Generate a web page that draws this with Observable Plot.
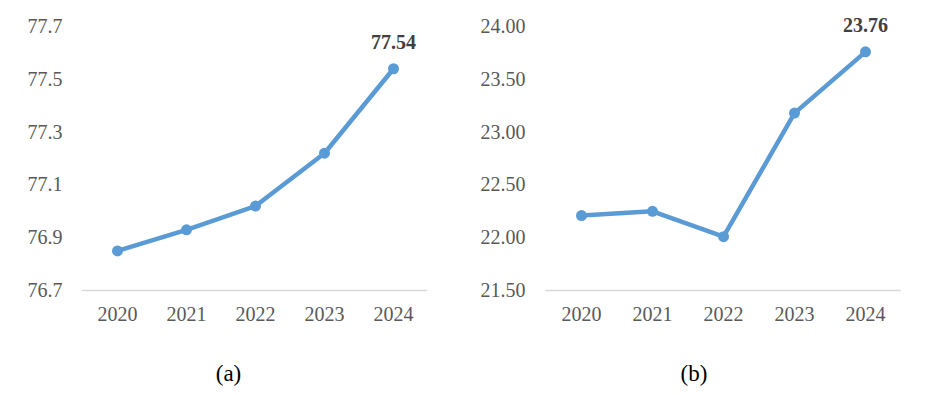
<!DOCTYPE html>
<html>
<head>
<meta charset="utf-8">
<script src="https://cdn.jsdelivr.net/npm/d3@7"></script>
<script src="https://cdn.jsdelivr.net/npm/@observablehq/plot@0.6"></script>
<style>
  html, body { margin: 0; padding: 0; background: #fff; }
  #wrap { display: flex; width: 929px; height: 395px; }
  .panel { position: relative; }
  .cap { position: absolute; left: 0; right: 0; text-align: center; font-family: "Liberation Serif", serif; font-size: 23px; color: #000; }
</style>
</head>
<body>
<div id="wrap">
  <div class="panel" id="pa" style="width:465px"><div class="cap" id="capA" style="top:361px;left:-8px">(a)</div></div>
  <div class="panel" id="pb" style="width:464px"><div class="cap" id="capB" style="top:361px;left:-6px">(b)</div></div>
</div>
<script>
const years = ["2020", "2021", "2022", "2023", "2024"];
const valuesA = [76.85, 76.93, 77.02, 77.22, 77.54];
const valuesB = [22.21, 22.25, 22.01, 23.18, 23.76];
const ticksA = [76.7, 76.9, 77.1, 77.3, 77.5, 77.7];
const ticksB = [21.5, 22.0, 22.5, 23.0, 23.5, 24.0];
const labelA = "77.54";
const labelB = "23.76";

function makePanel(values, ticks, decimals, label, width, ml, mr) {
  const data = years.map((y, i) => ({year: y, v: values[i]}));
  const last = data[data.length - 1];
  return Plot.plot({
    width, height: 330,
    marginLeft: ml, marginRight: mr, marginTop: 26, marginBottom: 40,
    style: {fontFamily: '"Liberation Serif", serif', fontSize: "20px", background: "#fff", overflow: "visible"},
    x: {type: "point", domain: years, padding: 0.5, label: null},
    y: {domain: [ticks[0], ticks[ticks.length - 1]], label: null},
    marks: [
      Plot.axisY({ticks, tickFormat: d => d.toFixed(decimals), tickSize: 0, tickPadding: 20, fill: "#595959", fontSize: 20, label: null}),
      Plot.axisX({tickSize: 0, tickPadding: 16, fill: "#595959", fontSize: 20, label: null}),
      Plot.ruleY([ticks[0]], {stroke: "#d9d9d9", strokeWidth: 1.5}),
      Plot.line(data, {x: "year", y: "v", stroke: "#5b9bd5", strokeWidth: 4.5, strokeLinejoin: "round", strokeLinecap: "round"}),
      Plot.dot(data, {x: "year", y: "v", r: 5.5, fill: "#5b9bd5", stroke: "none"}),
      Plot.text([last], {x: "year", y: "v", text: () => label, dy: -26, fontWeight: "bold", fill: "#404040", fontSize: 20})
    ]
  });
}

document.getElementById("pa").prepend(makePanel(valuesA, ticksA, 1, labelA, 465, 82, 38));
document.getElementById("pb").prepend(makePanel(valuesB, ticksB, 2, labelB, 464, 80, 28));
</script>
</body>
</html>
